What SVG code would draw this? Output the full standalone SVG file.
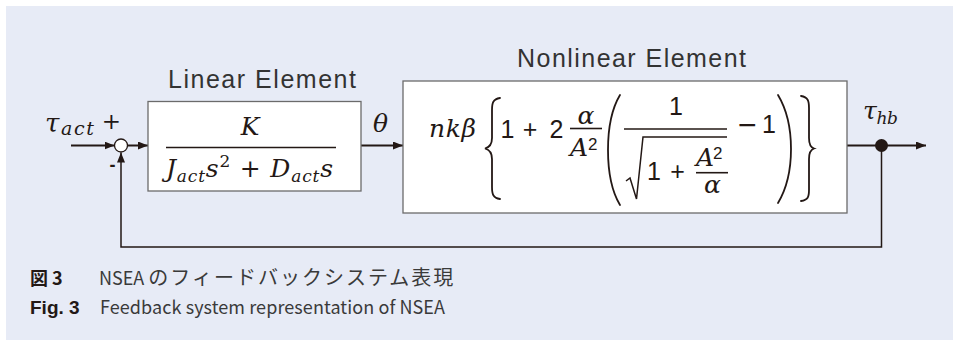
<svg xmlns="http://www.w3.org/2000/svg" width="953" height="340" viewBox="0 0 953 340">
<defs>
<style>
.bg{fill:#e7ebf6}
.box{fill:#fff;stroke:#6b6b6b;stroke-width:1.3}
.ln{fill:none;stroke:#231815;stroke-width:2}
.fb{fill:none;stroke:#231815;stroke-width:1.5}
.fr{fill:none;stroke:#231815;stroke-width:1.6}
.dl{fill:none;stroke:#231815;stroke-width:1.8;stroke-linecap:round}
.mi{font-family:"DejaVu Serif","Liberation Serif",serif;font-style:italic;font-size:25px;fill:#231815}
.ms{font-family:"Liberation Sans","Noto Sans",sans-serif;font-size:25px;fill:#231815}
.sub{font-size:17px}
.lbl{font-family:"Liberation Sans","Noto Sans",sans-serif;font-size:25px;fill:#333}
.cap{font-family:"Noto Sans CJK JP","Noto Sans",sans-serif;font-size:18px;fill:#3a3a3a}
.capb{font-family:"Liberation Sans","Noto Sans CJK JP",sans-serif;font-size:19px;font-weight:bold;fill:#231815}
</style>
<marker id="ah" viewBox="0 0 10 8" refX="10" refY="4" markerWidth="10" markerHeight="8" markerUnits="userSpaceOnUse" orient="auto">
<path d="M0,0 L10,4 L0,8 Z" fill="#231815"/>
</marker>
</defs>
<rect class="bg" x="6" y="6" width="947" height="334"/>

<g id="connectors">
<line class="ln" x1="71" y1="145.5" x2="114.5" y2="145.5" marker-end="url(#ah)"/>
<line class="ln" x1="127.5" y1="145.5" x2="148" y2="145.5" marker-end="url(#ah)"/>
<line class="ln" x1="361" y1="145.5" x2="403" y2="145.5" marker-end="url(#ah)"/>
<line class="ln" x1="847" y1="145.5" x2="926" y2="145.5" marker-end="url(#ah)"/>
<polyline class="fb" points="881.5,145.5 881.5,247 121,247 121,152.5" marker-end="url(#ah)"/>
</g>

<g id="input">
<text class="mi" x="45" y="131.5" style="font-size:26px" textLength="49">τ<tspan style="font-size:19px" dy="3">act</tspan></text>
<text x="111.5" y="129" style="font-family:'DejaVu Serif',serif;font-size:23px;fill:#231815" text-anchor="middle">+</text>
<text x="112.5" y="171" style="font-family:'Liberation Sans',sans-serif;font-size:18px;font-weight:bold;fill:#231815" text-anchor="middle">-</text>
</g>

<g id="sum">
<circle cx="121" cy="145.5" r="6.5" fill="#fff" stroke="#231815" stroke-width="1.3"/>
</g>

<g id="linear">
<text class="lbl" x="168" y="88" textLength="188">Linear Element</text>
<rect class="box" x="148" y="101.5" width="213" height="89.5"/>
<text class="mi" x="250" y="135" text-anchor="middle">K</text>
<line class="fr" x1="166" y1="147.5" x2="336" y2="147.5"/>
<text class="mi" x="166" y="177" textLength="167">J<tspan class="sub" dy="5">act</tspan><tspan dy="-5">s</tspan><tspan class="sub" style="font-style:normal" dy="-10">2</tspan><tspan style="font-style:normal" dy="10"> + </tspan>D<tspan class="sub" dy="5">act</tspan><tspan dy="-5">s</tspan></text>
</g>

<g id="theta">
<text class="mi" x="373" y="132">θ</text>
</g>

<g id="nonlinear">
<text class="lbl" x="517" y="67" textLength="229">Nonlinear Element</text>
<rect class="box" x="403" y="81" width="444" height="132"/>
<text class="mi" x="429" y="137" textLength="47">nkβ</text>
<path class="dl" d="M500,98 C493,99 492,103 492,110 L492,138 C492,144 489,147.5 485,148.5 C489,149.5 492,153 492,159 L492,187 C492,194 493,198 500,199"/>
<text class="ms" x="507.5" y="138" text-anchor="middle">1</text>
<text class="ms" x="530" y="138" text-anchor="middle">+</text>
<text class="ms" x="556.5" y="138" text-anchor="middle">2</text>
<line class="fr" x1="570" y1="128.5" x2="602" y2="128.5"/>
<text class="mi" x="586" y="124" text-anchor="middle">α</text>
<text class="mi" x="570" y="156">A</text>
<text class="ms sub" x="588" y="150">2</text>
<path class="dl" d="M620,95 C611,110 608,130 608,150 C608,170 611,190 620,205"/>
<text class="ms" x="676" y="115" text-anchor="middle">1</text>
<line class="fr" x1="624" y1="129" x2="727" y2="129"/>
<path class="fb" d="M626,181 L630,178 L636.5,199 L643,137 L727,137"/>
<text class="ms" x="654" y="180" text-anchor="middle">1</text>
<text class="ms" x="677.5" y="180" text-anchor="middle">+</text>
<line class="fr" x1="696" y1="172.7" x2="728" y2="172.7"/>
<text class="mi" x="696" y="166">A</text>
<text class="ms sub" x="713" y="159">2</text>
<text class="mi" x="712.5" y="192.5" text-anchor="middle">α</text>
<text x="737" y="133" style="font-family:'DejaVu Sans',sans-serif;font-size:25px;fill:#231815">−</text>
<text class="ms" x="762" y="133">1</text>
<path class="dl" d="M778,95 C787,110 791,130 791,149 C791,168 787,188 778,203"/>
<path class="dl" d="M801,96 C808,97 809,101 809,108 L809,138 C809,144 811,147.5 814,148.5 C811,149.5 809,153 809,159 L809,190 C809,197 808,200 801,201"/>
</g>

<g id="output">
<text class="mi" x="863" y="118.5" textLength="35">τ<tspan class="sub" dy="5">hb</tspan></text>
<circle cx="881.5" cy="145.5" r="6.5" fill="#231815"/>
</g>

<g id="caption">
<text class="capb" x="30" y="285" style="font-family:'Noto Sans CJK JP',sans-serif;font-size:18px">図 3</text>
<text class="cap" x="99" y="285">NSEA <tspan style="font-size:20px;letter-spacing:2px">のフィードバックシステム表現</tspan></text>
<text class="capb" x="30" y="314">Fig. 3</text>
<text class="cap" x="100" y="314" textLength="345">Feedback system representation of NSEA</text>
</g>
</svg>
